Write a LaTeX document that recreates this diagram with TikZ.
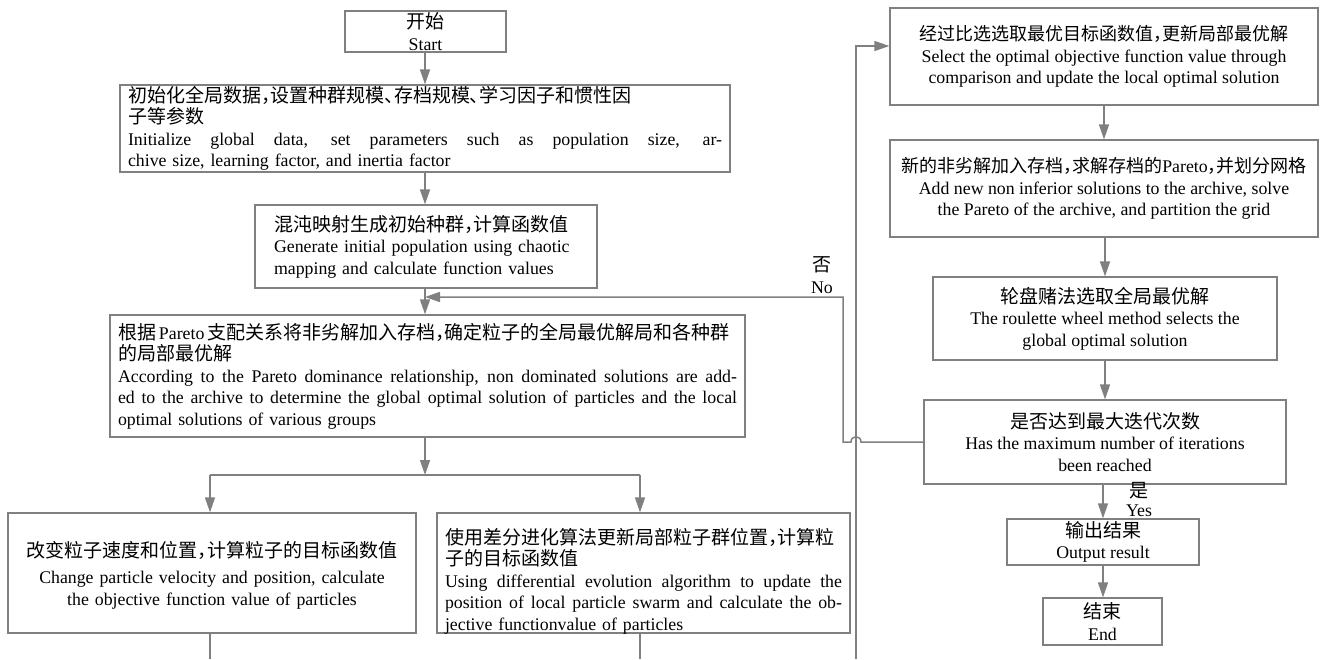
\documentclass[tikz,border=0pt]{standalone}
\usepackage{fontspec}
\setmainfont{Liberation Serif}
\newfontfamily\cjk[RawFeature=+halt]{Noto Sans CJK SC}
\newcommand\zh[1]{{\cjk\fontsize{19}{21.5}\selectfont #1}}
\newcommand\zs[1]{{\cjk\fontsize{18}{21.5}\selectfont #1}}
\newcommand\J[2]{\leavevmode{\spaceskip=0.25em plus 2em minus 0.05em\hbox to #1{#2}}}
\usetikzlibrary{arrows.meta}
\definecolor{gcol}{RGB}{128,128,128}
\begin{document}
\begin{tikzpicture}[x=1pt,y=-1pt,
  every node/.style={font=\fontsize{17.8}{21.5}\selectfont},
  box/.style={draw=gcol, line width=1.3pt, fill=white, inner ysep=0pt, inner xsep=8pt},
  txt/.style={inner sep=0pt},
  arr/.style={draw=gcol, line width=1.5pt, -{Triangle[length=15pt,width=10pt]}},
  ln/.style={draw=gcol, line width=1.5pt},
  lbl/.style={inner sep=0pt, align=center}]
\useasboundingbox (0,0) rectangle (1323,659);
\fill[white] (0,0) rectangle (1323,659);
% left column
\node[box, minimum width=161pt, minimum height=41pt, align=center] (start) at (425.5,31.5) {\zh{开始}\\Start};
\node[box, minimum width=610pt, minimum height=87pt, text width=594pt, align=left] (init) at (425,128.5)
 {\zh{初始化全局数据，设置种群规模、存档规模、学习因子和惯性因}\\\zh{子等参数}\\\J{594pt}{Initialize global data, set parameters such as population size, ar-}\\chive size, learning factor, and inertia factor};
\node[box, minimum width=342pt, minimum height=83pt, text width=304pt, inner xsep=19pt, align=left] (chaos) at (426,246.5)
 {\zh{混沌映射生成初始种群，计算函数值}\\Generate initial population using chaotic\\mapping and calculate function values};
\node[box, minimum width=635pt, minimum height=122pt, text width=619pt, align=left] (pareto) at (427.5,376)
 {\zh{根据}\,Pareto\,\zh{支配关系将非劣解加入存档，确定粒子的全局最优解局和各种群}\\\zh{的局部最优解}\\\J{619pt}{According to the Pareto dominance relationship, non dominated solutions are add-}\\\J{619pt}{ed to the archive to determine the global optimal solution of particles and the local}\\optimal solutions of various groups};
\node[box, minimum width=408pt, minimum height=120pt] (bl) at (212,573) {};
\node[txt, text width=392pt, align=center] (blt) at ([yshift=-2pt]bl.center)
 {\zh{改变粒子速度和位置，计算粒子的目标函数值}\\[5pt]Change particle velocity and position, calculate\\the objective function value of particles};
\node[box, minimum width=413pt, minimum height=120pt] (br) at (643.5,573) {};
\node[txt, text width=397pt, align=left] (brt) at ([yshift=-8pt]br.center)
 {\zh{使用差分进化算法更新局部粒子群位置，计算粒}\\\zh{子的目标函数值}\\\J{397pt}{Using differential evolution algorithm to update the}\\\J{397pt}{position of local particle swarm and calculate the ob-}\\jective functionvalue of particles};
% right column
\node[box, minimum width=428pt, minimum height=97pt, align=center] (b1) at (1104,56.5)
 {\zs{经过比选选取最优目标函数值，更新局部最优解}\\Select the optimal objective function value through\\comparison and update the local optimal solution};
\node[box, minimum width=428pt, minimum height=97pt, align=center] (b2) at (1104,188.5)
 {\zs{新的非劣解加入存档，求解存档的}Pareto\zs{，并划分网格}\\Add new non inferior solutions to the archive, solve\\the Pareto of the archive, and partition the grid};
\node[box, minimum width=344pt, minimum height=83pt, align=center] (b3) at (1105,318.5)
 {\zh{轮盘赌法选取全局最优解}\\The roulette wheel method selects the\\global optimal solution};
\node[box, minimum width=362pt, minimum height=84pt, align=center] (dec) at (1105,442)
 {\zh{是否达到最大迭代次数}\\Has the maximum number of iterations\\been reached};
\node[box, minimum width=192pt, minimum height=46pt, align=center] (out) at (1103,542)
 {\zh{输出结果}\\Output result};
\node[box, minimum width=119pt, minimum height=47pt, align=center] (end) at (1102.5,621.5)
 {\zh{结束}\\End};
% labels
\node[lbl] (no) at (822,275) {\zh{否}\\No};
\node[lbl, font=\fontsize{17.8}{19}\selectfont] (yes) at (1139,499) {\zh{是}\\Yes};
% coordinates
\coordinate (jn) at (425,475);
\coordinate (jl) at (210,475);
\coordinate (jr) at (640,475);
\coordinate (blend) at (210,659);
\coordinate (brend) at (640,659);
\coordinate (lp0) at (856,659);
\coordinate (lpT) at (856,46);
\coordinate (hopR) at (861,442);
\coordinate (hopL) at (851,442);
\coordinate (nc) at (843,442);
\coordinate (nt) at (843,297);
\coordinate (ne) at (425,297);
% left connectors
\draw[arr] (start.south -| jn) -- (jn |- init.north);
\draw[arr] (init.south -| jn) -- (jn |- chaos.north);
\draw[arr] (chaos.south -| jn) -- (jn |- pareto.north);
\draw[arr] (pareto.south -| jn) -- (jn);
\draw[ln] (jl) -- (jr);
\draw[arr] (jl) -- (jl |- bl.north);
\draw[arr] (jr) -- (jr |- br.north);
\draw[ln] (blend |- bl.south) -- (blend);
\draw[ln] (brend |- br.south) -- (brend);
% loop into first right box
\draw[arr] (lp0) -- (lpT) -- (lpT -| b1.west);
% right connectors
\draw[arr] (b1.south) -- (b1.south |- b2.north);
\draw[arr] (b2.south -| b3.north) -- (b3.north);
\draw[arr] (b3.south) -- (b3.south |- dec.north);
\draw[arr] (dec.south -| out.north) -- (out.north);
\draw[arr] (out.south) -- (out.south |- end.north);
% no loop with hop
\draw[arr] (dec.west) -- (hopR) .. controls (861,435) and (851,435) .. (hopL) -- (nc) -- (nt) -- (ne);
\end{tikzpicture}
\end{document}
